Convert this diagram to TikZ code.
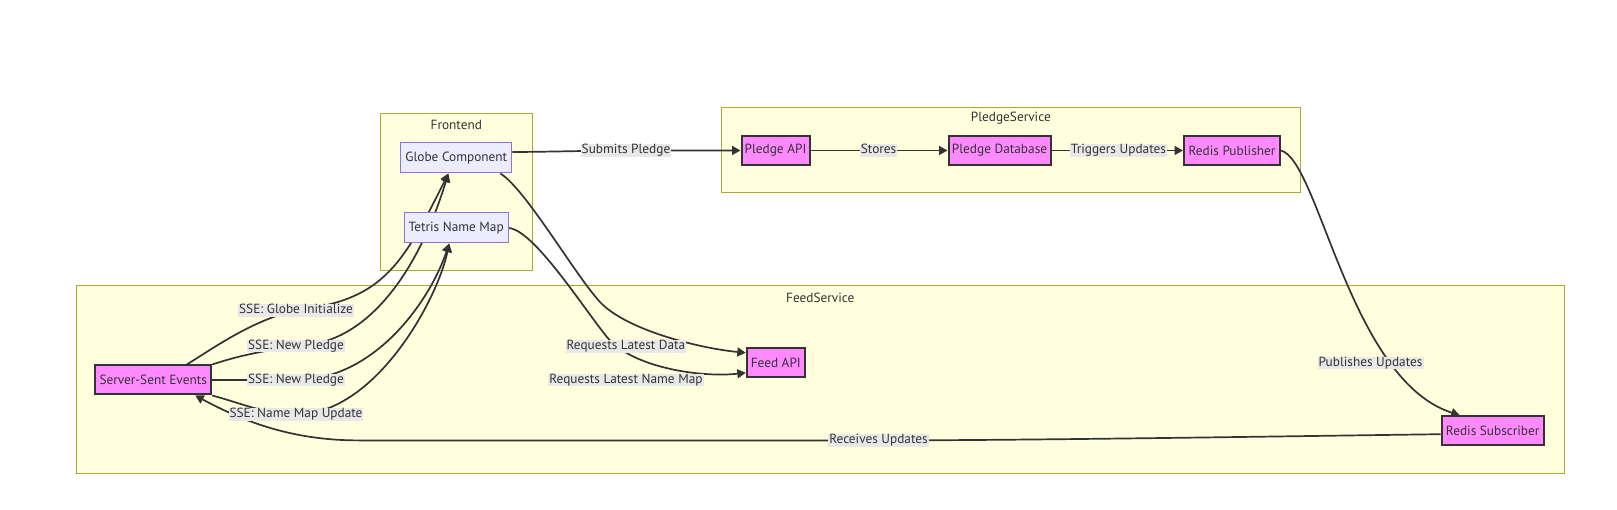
\documentclass[tikz,border=0pt]{standalone}
\usepackage{fontspec}
\setmainfont{PT Sans}
\usetikzlibrary{arrows.meta}
\definecolor{ink}{HTML}{333333}
\definecolor{clusterfill}{HTML}{FFFFDE}
\definecolor{clusterline}{HTML}{AAAA33}
\definecolor{nodefill}{HTML}{ECECFF}
\definecolor{nodeline}{HTML}{9370DB}
\definecolor{pledgepink}{HTML}{FF8AFF}
\definecolor{labelgray}{HTML}{E8E8E8}
\pgfdeclarelayer{clusters}
\pgfdeclarelayer{edges}
\pgfsetlayers{clusters,edges,main}
\tikzset{
  base-text/.style={
    text=ink,
    font=\fontsize{13.3}{15}\selectfont
  },
  flow-node/.style={
    base-text,
    rectangle,
    inner sep=0pt,
    minimum height=30pt,
    line width=1pt,
    draw=nodeline,
    fill=nodefill
  },
  flow-node-pink/.style={
    flow-node,
    minimum height=29pt,
    draw=ink,
    fill=pledgepink,
    line width=2pt
  },
  cluster-box/.style={draw=clusterline, fill=clusterfill, line width=1pt},
  cluster-title/.style={base-text, inner sep=0pt},
  edge-label/.style={base-text, fill=labelgray, inner xsep=1pt, inner ysep=0pt, text height=9.5pt, text depth=3pt},
  flow-edge/.style={draw=ink, line width=1.7pt, -{Triangle[length=8.5pt,width=9pt]}}
}

\begin{document}
\begin{tikzpicture}[x=1pt,y=-1pt]
  \useasboundingbox (0,0) rectangle (1617,510);

  % Subgraphs
  \begin{pgfonlayer}{clusters}
    \path[cluster-box] (380.7,113.3) rectangle (532,270.3);
    \path[cluster-box] (721,107.3) rectangle (1300.6,192.3);
    \path[cluster-box] (76.3,286) rectangle (1564,473.3);
  \end{pgfonlayer}
  \node[cluster-title] (t-front) at (456.3,125) {Frontend};
  \node[cluster-title] (t-pledge) at (1010.8,118.5) {PledgeService};
  \node[cluster-title] (t-feed) at (820.2,297.5) {FeedService};

  % Frontend
  \node[flow-node, minimum width=111pt] (globe) at (456.3,158) {Globe Component};
  \node[flow-node, minimum width=104pt] (tetris) at (456.2,228) {Tetris Name Map};

  % PledgeService
  \node[flow-node-pink, minimum width=68pt] (pledge-api) at (775.5,150.5) {Pledge API};
  \node[flow-node-pink, minimum width=102pt] (pledge-db) at (999.5,150.5) {Pledge Database};
  \node[flow-node-pink, minimum width=96pt] (redis-pub) at (1232,150.5) {Redis Publisher};

  % FeedService
  \node[flow-node-pink, minimum width=116pt] (sse) at (153.2,380) {Server-Sent Events};
  \node[flow-node-pink, minimum width=58pt] (feed-api) at (775.8,362.8) {Feed API};
  \node[flow-node-pink, minimum width=102pt] (redis-sub) at (1492.7,430.7) {Redis Subscriber};

  % Edge labels
  \node[edge-label] (l-submit) at (626,150.5) {Submits Pledge};
  \node[edge-label] (l-stores) at (878.6,150.5) {Stores};
  \node[edge-label] (l-trigger) at (1118.4,150.5) {Triggers Updates};
  \node[edge-label] (l-publish) at (1370.6,362.8) {Publishes Updates};
  \node[edge-label] (l-recv) at (878.6,440.4) {Receives Updates};
  \node[edge-label] (l-init) at (296,310.4) {SSE: Globe Initialize};
  \node[edge-label] (l-new1) at (296,345.8) {SSE: New Pledge};
  \node[edge-label] (l-new2) at (296,380) {SSE: New Pledge};
  \node[edge-label] (l-map-upd) at (296,414.5) {SSE: Name Map Update};
  \node[edge-label] (l-data) at (626,346.3) {Requests Latest Data};
  \node[edge-label] (l-namemap) at (626,380) {Requests Latest Name Map};

  \begin{pgfonlayer}{edges}
    % Pledge flow
    \draw[flow-edge] ([yshift=6pt]globe.east) .. controls +(30,0) and +(-30,0) .. (l-submit.center) -- (pledge-api.west);
    \draw[flow-edge] (pledge-api.east) -- (pledge-db.west);
    \draw[flow-edge] (pledge-db.east) -- (redis-pub.west);
    \draw[flow-edge] (redis-pub.east) .. controls +(38,10) and +(-110,-35) .. ([xshift=-33pt]redis-sub.north);

    % Back to the browser
    \draw[flow-edge] ([yshift=-3.5pt]redis-sub.west) .. controls +(-150,2) and +(150,0) .. (l-recv.center)
      -- ++(-520,0) .. controls +(-70,0) and +(45,24) .. ([xshift=42pt]sse.south);

    % SSE pushes
    \draw[flow-edge] ([xshift=33.5pt]sse.north) .. controls +(25,-15) and +(-45,10) .. (l-init.center)
      .. controls +(84,-10.5) and +(-48,97) .. ([xshift=-8pt]globe.south);
    \draw[flow-edge] (sse.north east) .. controls +(30,-10) and +(-30,5) .. (l-new1.center)
      .. controls +(74,-0.5) and +(-28,92) .. ([xshift=-8pt]globe.south);
    \draw[flow-edge] (sse.east) -- (l-new2.center)
      .. controls +(79,0) and +(-19,57) .. ([xshift=-7pt]tetris.south);
    \draw[flow-edge] (sse.south east) .. controls +(30,8) and +(-30,0) .. (l-map-upd.center)
      .. controls +(79,0) and +(-12,57) .. ([xshift=-7pt]tetris.south);

    % Feed requests
    \draw[flow-edge] ([xshift=-12pt]globe.south east) .. controls +(25,15) and +(-25,-27) .. (600,302)
      .. controls +(25,27) and +(-50,-5) .. ([yshift=10pt]feed-api.west);
    \draw[flow-edge] (tetris.east) .. controls +(25,2) and +(-25,-31) .. (606.7,336.7)
      .. controls +(25,31) and +(-45,5) .. ([yshift=-10pt]feed-api.west);
  \end{pgfonlayer}
\end{tikzpicture}
\end{document}
